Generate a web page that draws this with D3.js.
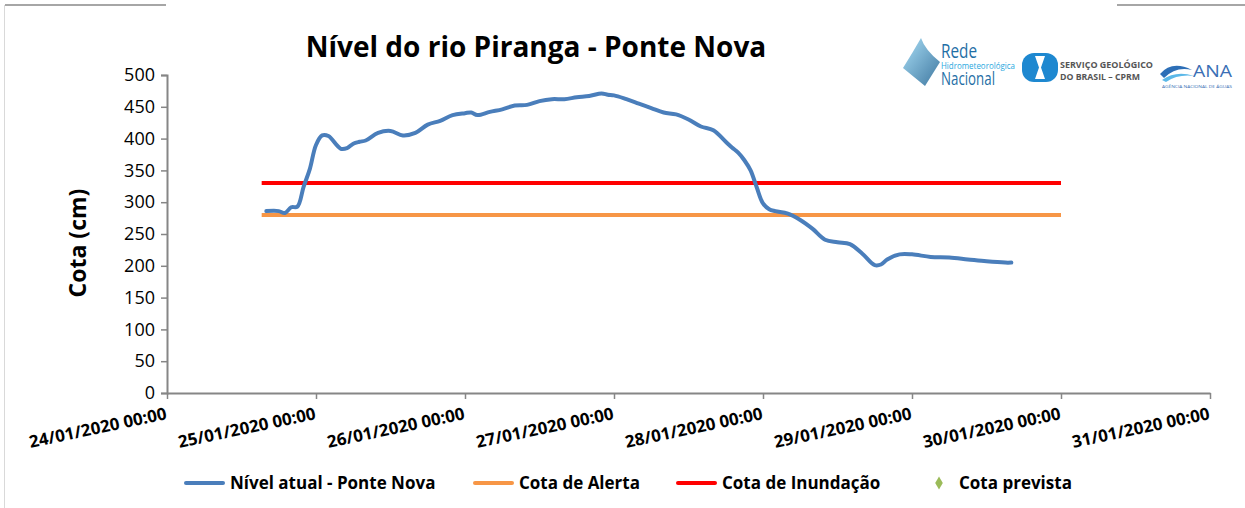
<!DOCTYPE html>
<html>
<head>
<meta charset="utf-8">
<script src="https://cdn.jsdelivr.net/npm/d3@7"></script>
<style>
  body { margin: 0; background: #fff; }
  svg { display: block; }
</style>
</head>
<body>
<svg id="chart"></svg>
<script>
// nivel do rio, leituras aproximadas
const nivelHoras = [
  "2020-01-24T16:00", "2020-01-24T18:00", "2020-01-24T19:00", "2020-01-24T20:00",
  "2020-01-24T21:00", "2020-01-24T22:00", "2020-01-24T23:00", "2020-01-25T00:00",
  "2020-01-25T01:00", "2020-01-25T02:00", "2020-01-25T04:00", "2020-01-25T05:00",
  "2020-01-25T06:00", "2020-01-25T07:00", "2020-01-25T08:00", "2020-01-25T10:00",
  "2020-01-25T12:00", "2020-01-25T14:00", "2020-01-25T16:00", "2020-01-25T18:00",
  "2020-01-25T20:00", "2020-01-25T22:00", "2020-01-26T00:00", "2020-01-26T01:00",
  "2020-01-26T02:00", "2020-01-26T04:00", "2020-01-26T06:00", "2020-01-26T08:00",
  "2020-01-26T10:00", "2020-01-26T12:00", "2020-01-26T14:00", "2020-01-26T16:00",
  "2020-01-26T18:00", "2020-01-26T20:00", "2020-01-26T22:00", "2020-01-26T23:00",
  "2020-01-27T00:00", "2020-01-27T02:00", "2020-01-27T04:00", "2020-01-27T06:00",
  "2020-01-27T08:00", "2020-01-27T10:00", "2020-01-27T12:00", "2020-01-27T14:00",
  "2020-01-27T16:00", "2020-01-27T18:00", "2020-01-27T19:00", "2020-01-27T20:00",
  "2020-01-27T21:00", "2020-01-27T22:00", "2020-01-27T23:00", "2020-01-28T00:00",
  "2020-01-28T01:00", "2020-01-28T02:00", "2020-01-28T04:00", "2020-01-28T06:00",
  "2020-01-28T08:00", "2020-01-28T10:00", "2020-01-28T12:00", "2020-01-28T14:00",
  "2020-01-28T16:00", "2020-01-28T18:00", "2020-01-28T19:00", "2020-01-28T20:00",
  "2020-01-28T22:00", "2020-01-29T00:00", "2020-01-29T03:00", "2020-01-29T06:00",
  "2020-01-29T09:00", "2020-01-29T12:00", "2020-01-29T15:00", "2020-01-29T16:00"
];
const nivelCota = [
  286, 286, 283, 292,
  293, 324, 352, 390,
  405, 404, 384, 385,
  392, 395, 397, 409,
  412, 405, 409, 422,
  428, 437, 440, 441,
  437, 442, 446, 452,
  453, 459, 462, 462,
  465, 467, 471, 469,
  468, 462, 455, 448,
  441, 438, 430, 419,
  413, 395, 386, 378,
  366, 350, 323, 298,
  289, 286, 282, 272,
  258, 241, 237, 234,
  219, 201, 202, 210,
  218, 218, 214, 213,
  210, 207, 205, 205
];

const cotaAlerta = 280;
const cotaInundacao = 330;
const cotasPeriodo = ["2020-01-24T15:15", "2020-01-30T00:00"];

const eixoX = ["2020-01-24T00:00", "2020-01-31T00:00"];
const eixoY = [0, 500];

const legenda = ["Nível atual - Ponte Nova", "Cota de Alerta", "Cota de Inundação", "Cota prevista"];

const w = 1245;
const h = 508;
const FONT = '"Open Sans", sans-serif';
const parse = d3.timeParse("%Y-%m-%dT%H:%M");

const svg = d3.select("#chart").attr("width", w).attr("height", h)
  .style("font-family", FONT);

// moldura parcial
svg.append("line").attr("x1", 4.5).attr("x2", 4.5).attr("y1", 5).attr("y2", h)
  .attr("stroke", "#d9d9d9").attr("stroke-width", 1);
svg.append("line").attr("x1", 5).attr("x2", 166).attr("y1", 5).attr("y2", 5)
  .attr("stroke", "#a6a6a6").attr("stroke-width", 2);
svg.append("line").attr("x1", 1117).attr("x2", w).attr("y1", 5).attr("y2", 5)
  .attr("stroke", "#a6a6a6").attr("stroke-width", 2);

const x = d3.scaleTime().domain(eixoX.map(parse)).range([167, 1210]);
const y = d3.scaleLinear().domain(eixoY).range([393, 75]);

svg.append("text")
  .attr("x", 536).attr("y", 57)
  .attr("text-anchor", "middle")
  .attr("font-size", 28).attr("font-weight", "bold")
  .text("Nível do rio Piranga - Ponte Nova");

// eixo y
const yAxis = d3.axisLeft(y).tickValues(d3.range(0, 501, 50)).tickSize(6).tickPadding(6);
const gy = svg.append("g").attr("transform", "translate(167,0)").call(yAxis);
gy.select(".domain").attr("stroke", "#868686").attr("stroke-width", 2);
gy.selectAll(".tick line").attr("stroke", "#868686").attr("stroke-width", 1.5);
gy.selectAll(".tick text").attr("font-size", 18).attr("font-family", FONT).attr("fill", "#000");

svg.append("text")
  .attr("transform", "translate(86,243) rotate(-90)")
  .attr("text-anchor", "middle")
  .attr("font-size", 23).attr("font-weight", "bold")
  .text("Cota (cm)");

// eixo x
const xAxis = d3.axisBottom(x).ticks(d3.timeDay.every(1))
  .tickFormat(d3.timeFormat("%d/%m/%Y %H:%M")).tickSize(6).tickSizeOuter(0);
const gx = svg.append("g").attr("transform", "translate(0,393)").call(xAxis);
gx.select(".domain").attr("stroke", "#868686").attr("stroke-width", 2);
gx.selectAll(".tick line").attr("stroke", "#868686").attr("stroke-width", 1.5);
gx.selectAll(".tick text")
  .attr("font-size", 17).attr("font-weight", "bold").attr("font-family", FONT).attr("fill", "#000")
  .attr("text-anchor", "end")
  .attr("dy", null)
  .attr("y", 0)
  .attr("transform", "translate(0,26) rotate(-12)");

// cotas de referencia
const periodo = cotasPeriodo.map(parse);
[[cotaAlerta, "#f79646"], [cotaInundacao, "#ff0000"]].forEach(([v, c]) => {
  svg.append("line")
    .attr("x1", x(periodo[0])).attr("x2", x(periodo[1]))
    .attr("y1", y(v)).attr("y2", y(v))
    .attr("stroke", c).attr("stroke-width", 4);
});

// nivel atual
const pontos = nivelHoras.map((t, i) => [parse(t), nivelCota[i]]);
const linha = d3.line()
  .x((d) => x(d[0]))
  .y((d) => y(d[1]))
  .curve(d3.curveCatmullRom.alpha(0.5));
svg.append("path")
  .datum(pontos)
  .attr("d", linha)
  .attr("fill", "none")
  .attr("stroke", "#4a7ebb")
  .attr("stroke-width", 4)
  .attr("stroke-linejoin", "round")
  .attr("stroke-linecap", "round");

// legenda
const legX = [186, 475, 678, 939];
const legCores = ["#4a7ebb", "#f79646", "#ff0000", "#9bbb59"];
const leg = svg.append("g").attr("transform", "translate(0,483)");
legenda.forEach((nome, i) => {
  if (i < 3) {
    leg.append("line").attr("x1", legX[i]).attr("x2", legX[i] + 37)
      .attr("stroke", legCores[i]).attr("stroke-width", 4).attr("stroke-linecap", "round");
    leg.append("text").attr("x", legX[i] + 44).attr("y", 6)
      .attr("font-size", 17).attr("font-weight", "bold").text(nome);
  } else {
    leg.append("path").attr("d", d3.symbol(d3.symbolDiamond, 50)())
      .attr("transform", `translate(${legX[i]},0)`).attr("fill", legCores[i]);
    leg.append("text").attr("x", legX[i] + 20).attr("y", 6)
      .attr("font-size", 17).attr("font-weight", "bold").text(nome);
  }
});

// logotipos (aproximados)
const logos = svg.append("g");
const grad = svg.append("defs").append("linearGradient").attr("id", "rede")
  .attr("x1", 0).attr("y1", 0).attr("x2", 1).attr("y2", 1);
grad.append("stop").attr("offset", 0).attr("stop-color", "#9ad8f4");
grad.append("stop").attr("offset", 1).attr("stop-color", "#1c5f8f");
logos.append("path")
  .attr("d", "M921,38 Q925,50 940,62 L925,86 L903,68 Q913,52 921,38 Z")
  .attr("fill", "url(#rede)").attr("opacity", 0.85);
logos.append("text").attr("x", 941).attr("y", 58).attr("font-size", 20)
  .attr("textLength", 36).attr("lengthAdjust", "spacingAndGlyphs")
  .attr("fill", "#1f6fa6").text("Rede");
logos.append("text").attr("x", 941).attr("y", 69).attr("font-size", 9)
  .attr("textLength", 74).attr("lengthAdjust", "spacingAndGlyphs")
  .attr("fill", "#29a8e0").text("Hidrometeorológica");
logos.append("text").attr("x", 941).attr("y", 85).attr("font-size", 18)
  .attr("textLength", 54).attr("lengthAdjust", "spacingAndGlyphs")
  .attr("fill", "#1f6fa6").text("Nacional");

logos.append("rect").attr("x", 1022).attr("y", 53).attr("width", 36).attr("height", 29)
  .attr("rx", 12).attr("fill", "#1e88d0");
logos.append("path").attr("d", "M1035,56 L1045,56 L1041,67.5 L1045,79 L1035,79 L1039,67.5 Z")
  .attr("fill", "#fff");
logos.append("text").attr("x", 1060).attr("y", 68).attr("font-size", 9)
  .attr("textLength", 93).attr("lengthAdjust", "spacingAndGlyphs")
  .attr("font-weight", "bold").attr("fill", "#555").text("SERVIÇO GEOLÓGICO");
logos.append("text").attr("x", 1060).attr("y", 80).attr("font-size", 9)
  .attr("textLength", 80).attr("lengthAdjust", "spacingAndGlyphs")
  .attr("font-weight", "bold").attr("fill", "#555").text("DO BRASIL – CPRM");

logos.append("path").attr("d", "M1160,74 Q1172,60 1192,70 Q1176,66 1164,78 Z").attr("fill", "#2d6fb7");
logos.append("path").attr("d", "M1162,80 Q1176,70 1194,76 Q1178,74 1166,82 Z").attr("fill", "#5bb8e8");
logos.append("text").attr("x", 1193).attr("y", 77).attr("font-size", 17)
  .attr("textLength", 39).attr("lengthAdjust", "spacingAndGlyphs")
  .attr("fill", "#3a6fb5").text("ANA");
logos.append("text").attr("x", 1162).attr("y", 88).attr("font-size", 3.6)
  .attr("textLength", 70).attr("lengthAdjust", "spacingAndGlyphs")
  .attr("fill", "#3a6fb5").text("AGÊNCIA NACIONAL DE ÁGUAS");
</script>
</body>
</html>
